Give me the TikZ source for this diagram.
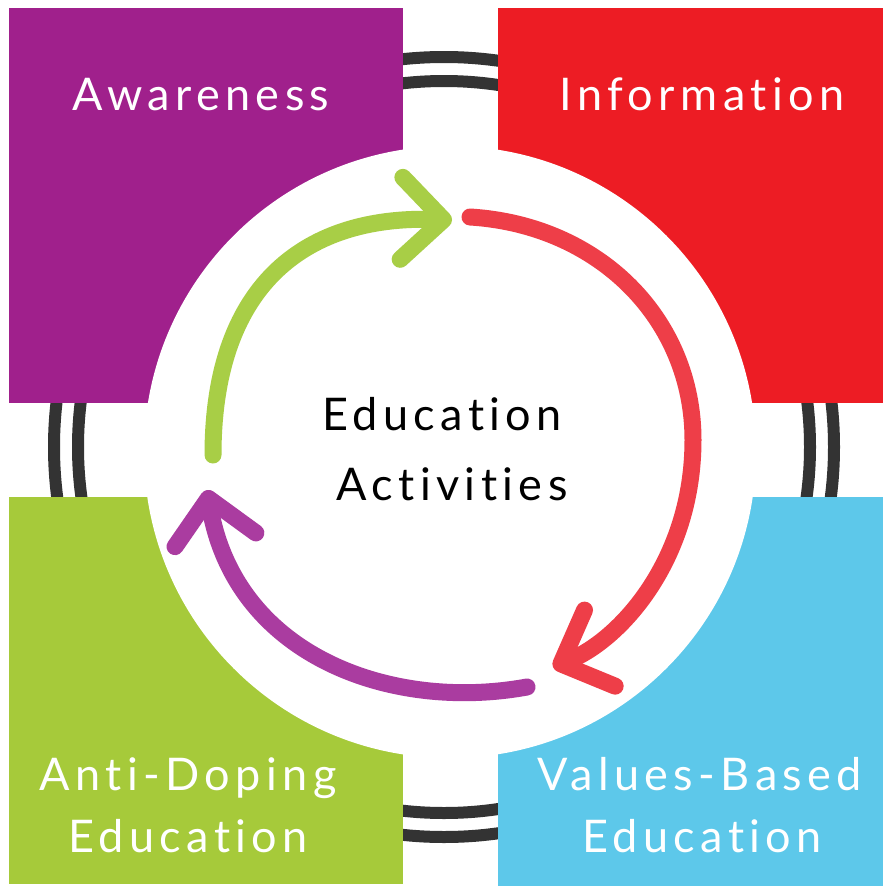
\documentclass[tikz,border=0pt]{standalone}
\usepackage{fontspec}
\setmainfont{Lato}[LetterSpace=12, Ligatures=NoCommon]
\usetikzlibrary{arrows.meta}
\definecolor{awarecol}{RGB}{160,32,140}
\definecolor{infocol}{RGB}{237,28,36}
\definecolor{antidopecol}{RGB}{166,202,58}
\definecolor{valuescol}{RGB}{93,200,234}
\definecolor{ringcol}{RGB}{51,51,51}
\definecolor{greenarrow}{RGB}{168,206,70}
\definecolor{redarrow}{RGB}{238,62,72}
\definecolor{purplearrow}{RGB}{170,60,160}
\tikzset{
  boxlabel/.style={anchor=base, text=white, font=\fontsize{45}{50}\selectfont},
  centrelabel/.style={anchor=base, text=black, font=\fontsize{45}{52}\selectfont},
  cyclearrow/.style={line width=17pt, line cap=round,
    -{Straight Barb[length=42pt, width=82pt, round]}}
}

\begin{document}
\begin{tikzpicture}[x=1pt, y=-1pt]
        \useasboundingbox (0, 0) rectangle (883, 886);
        \draw[ringcol, line width=12pt] (444, 447) circle[radius=390] (444, 447) circle[radius=366];
        \fill[awarecol] (9, 8) rectangle (403, 403);
        \fill[infocol] (498, 8) rectangle (883, 403);
        \fill[antidopecol] (9, 497) rectangle (403, 884);
        \fill[valuescol] (498, 497) rectangle (883, 886);
        \fill[white] (450, 452) circle[radius=306];
        \path (201, 110) node[boxlabel](awareness) {Awareness}
              (702, 110) node[boxlabel](information) {Information}
              (188, 790) node[boxlabel](antidoping) {Anti-Doping}
              (188, 852) node[boxlabel](antidopingedu) {Education}
              (700, 790) node[boxlabel](valuesbased) {Values-Based}
              (702, 852) node[boxlabel](valuesbasededu) {Education}
              (442, 430) node[centrelabel](education) {Education}
              (452, 500) node[centrelabel](activities) {Activities};
        \path (213, 455) coordinate(gs) (452, 220) coordinate(ge)
              (470, 217) coordinate(rs) (693, 440) coordinate(rm) (553, 667) coordinate(re)
              (527, 687) coordinate(ps) (207, 490) coordinate(pe);
        \draw[cyclearrow, greenarrow] (gs) .. controls (213, 290) and (300, 215) .. (ge);
        \draw[cyclearrow, redarrow] (rs) .. controls (600, 225) and (693, 320) .. (rm)
              .. controls (693, 560) and (620, 640) .. (re);
        \draw[cyclearrow, purplearrow] (ps) .. controls (390, 712) and (235, 655) .. (pe);
    \end{tikzpicture}
\end{document}
